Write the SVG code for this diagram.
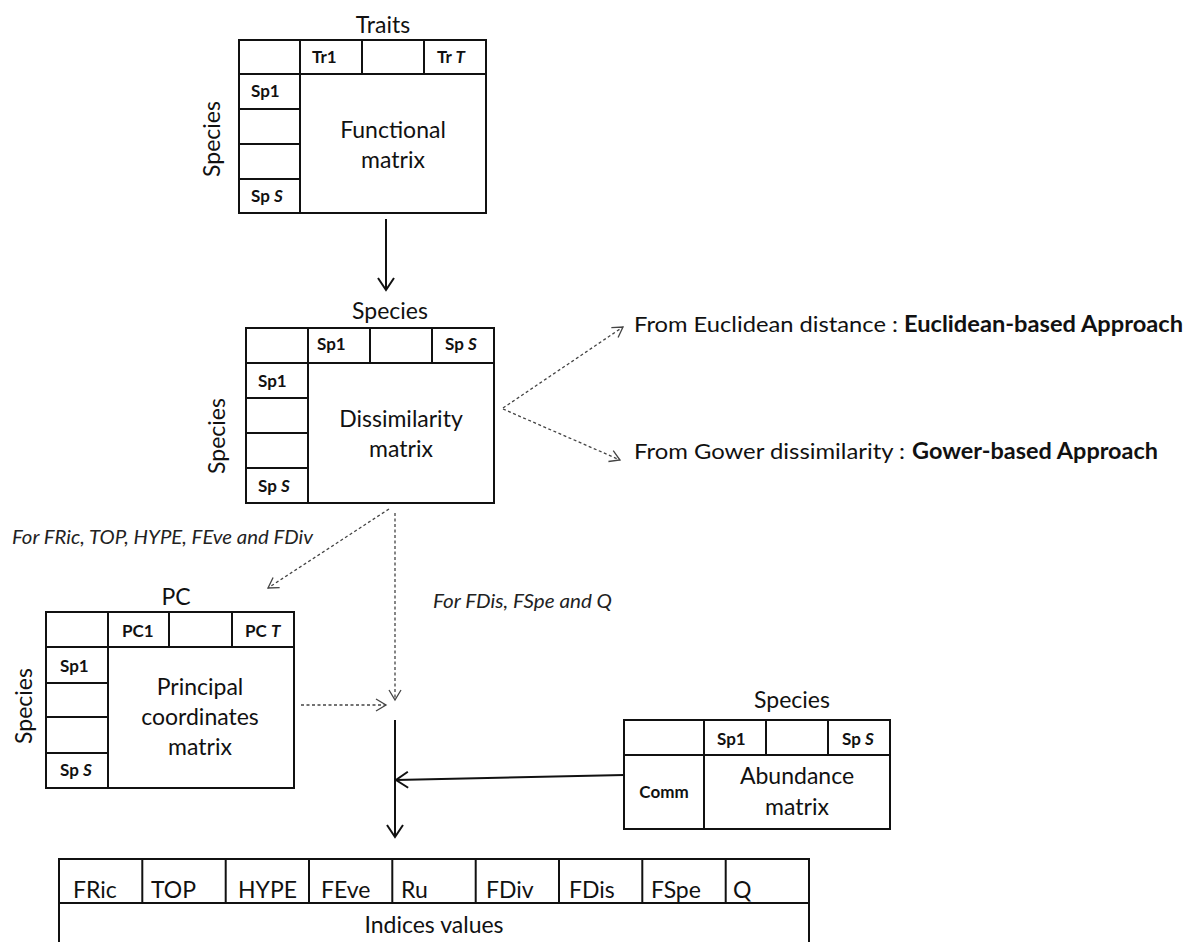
<svg xmlns="http://www.w3.org/2000/svg" width="1186" height="942" viewBox="0 0 1186 942">
<style>
.bx{fill:none;stroke:#111;stroke-width:2}
.ln{fill:none;stroke:#111;stroke-width:2}
.t{font-family:Lato,"Liberation Sans",sans-serif;font-size:23px;fill:#111}
.m{text-anchor:middle}
.b{font-family:Lato,"Liberation Sans",sans-serif;font-size:17px;font-weight:bold;fill:#111}
.it{font-family:Lato,"Liberation Sans",sans-serif;font-size:20px;font-style:italic;fill:#222}
.r{font-family:Lato,"Liberation Sans",sans-serif;font-size:22px;fill:#111}
.rb{font-family:Lato,"Liberation Sans",sans-serif;font-size:22px;font-weight:bold;fill:#111}
.sol{fill:none;stroke:#111;stroke-width:2}
.dsh{fill:none;stroke:#444;stroke-width:1.3;stroke-dasharray:3 2.5}
</style>
<defs>
<marker id="arrS" markerUnits="userSpaceOnUse" orient="auto" refX="0" refY="0" markerWidth="20" markerHeight="20" overflow="visible">
<path d="M-12,-8 L0,0 L-12,8" fill="none" stroke="#111" stroke-width="2"/>
</marker>
<marker id="arrD" markerUnits="userSpaceOnUse" orient="auto" refX="0" refY="0" markerWidth="20" markerHeight="20" overflow="visible">
<path d="M-10,-6 L0,0 L-10,6" fill="none" stroke="#444" stroke-width="1.3"/>
</marker>
</defs>

<g id="functional-matrix">
<rect class="bx" x="239" y="40" width="247" height="173"/>
<path class="ln" d="M300,40V213 M362,40V74 M424,40V74 M239,74H486 M239,109H300 M239,144H300 M239,179H300"/>
<text class="t m" x="383" y="33">Traits</text>
<text class="b" x="312" y="63">Tr1</text>
<text class="b" x="437" y="63">Tr <tspan font-style="italic">T</tspan></text>
<text class="b" x="251" y="97">Sp1</text>
<text class="b" x="251" y="202">Sp <tspan font-style="italic">S</tspan></text>
<text class="t m" x="393" y="138">Functional</text>
<text class="t m" x="393" y="168">matrix</text>
<text class="t m" transform="translate(220,139) rotate(-90)">Species</text>
</g>

<g id="dissimilarity-matrix">
<rect class="bx" x="246" y="328" width="248" height="175"/>
<path class="ln" d="M308,328V503 M370,328V363 M432,328V363 M246,363H494 M246,398H308 M246,433H308 M246,468H308"/>
<text class="t m" x="390" y="319">Species</text>
<text class="b" x="317" y="350">Sp1</text>
<text class="b" x="445" y="350">Sp <tspan font-style="italic">S</tspan></text>
<text class="b" x="258" y="387">Sp1</text>
<text class="b" x="258" y="492">Sp <tspan font-style="italic">S</tspan></text>
<text class="t m" x="401" y="427">Dissimilarity</text>
<text class="t m" x="401" y="457">matrix</text>
<text class="t m" transform="translate(225,436) rotate(-90)">Species</text>
</g>

<g id="euclidean-label">
<text class="r" x="634" y="332" textLength="264" lengthAdjust="spacingAndGlyphs">From Euclidean distance :</text>
<text class="rb" x="904" y="332" textLength="279" lengthAdjust="spacingAndGlyphs">Euclidean-based Approach</text>
</g>

<g id="gower-label">
<text class="r" x="634" y="459" textLength="271" lengthAdjust="spacingAndGlyphs">From Gower dissimilarity :</text>
<text class="rb" x="912" y="459" textLength="246" lengthAdjust="spacingAndGlyphs">Gower-based Approach</text>
</g>

<g id="pc-label">
<text class="it" x="12" y="544" textLength="301" lengthAdjust="spacingAndGlyphs">For FRic, TOP, HYPE, FEve and FDiv</text>
</g>
<g id="dis-label">
<text class="it" x="433" y="608" textLength="179" lengthAdjust="spacingAndGlyphs">For FDis, FSpe and Q</text>
</g>

<g id="pc-matrix">
<rect class="bx" x="46" y="612" width="248" height="176"/>
<path class="ln" d="M108,612V788 M169,612V647 M232,612V647 M46,647H294 M46,683H108 M46,717H108 M46,753H108"/>
<text class="t m" x="176" y="605">PC</text>
<text class="b" x="122" y="637">PC1</text>
<text class="b" x="245" y="637">PC <tspan font-style="italic">T</tspan></text>
<text class="b" x="60" y="672">Sp1</text>
<text class="b" x="60" y="776">Sp <tspan font-style="italic">S</tspan></text>
<text class="t m" x="200" y="695">Principal</text>
<text class="t m" x="200" y="725">coordinates</text>
<text class="t m" x="200" y="755">matrix</text>
<text class="t m" transform="translate(32,706) rotate(-90)">Species</text>
</g>

<g id="abundance-matrix">
<rect class="bx" x="624" y="720" width="266" height="109"/>
<path class="ln" d="M704,720V829 M766,720V755 M828,720V755 M624,755H890"/>
<text class="t m" x="792" y="708">Species</text>
<text class="b" x="717" y="745">Sp1</text>
<text class="b" x="842" y="745">Sp <tspan font-style="italic">S</tspan></text>
<text class="b m" x="664" y="798">Comm</text>
<text class="t m" x="797" y="784">Abundance</text>
<text class="t m" x="797" y="815">matrix</text>
</g>

<g id="indices-table">
<path class="ln" d="M59,960V859H809V960 M59,903H809 M142.3,859V903 M225.7,859V903 M309,859V903 M392.3,859V903 M475.7,859V903 M559,859V903 M642.3,859V903 M725.7,859V903"/>
<text class="t" x="73" y="898">FRic</text>
<text class="t" x="151" y="898">TOP</text>
<text class="t" x="238" y="898">HYPE</text>
<text class="t" x="321" y="898">FEve</text>
<text class="t" x="401" y="898">Ru</text>
<text class="t" x="486" y="898">FDiv</text>
<text class="t" x="569" y="898">FDis</text>
<text class="t" x="651" y="898">FSpe</text>
<text class="t" x="733" y="898">Q</text>
<text class="t m" x="434" y="933">Indices values</text>
</g>

<g id="connectors">
<path class="sol" d="M386,219 L386,290" marker-end="url(#arrS)"/>
<path class="dsh" d="M503,408 L623,327" marker-end="url(#arrD)"/>
<path class="dsh" d="M503,409 L620,460" marker-end="url(#arrD)"/>
<path class="dsh" d="M389,509 L268,588" marker-end="url(#arrD)"/>
<path class="dsh" d="M395,513 L395,700" marker-end="url(#arrD)"/>
<path class="dsh" d="M301,705 L386,705" marker-end="url(#arrD)"/>
<path class="sol" d="M395,720 L395,837" marker-end="url(#arrS)"/>
<path class="sol" d="M624,775 L396,780" marker-end="url(#arrS)"/>
</g>
</svg>
